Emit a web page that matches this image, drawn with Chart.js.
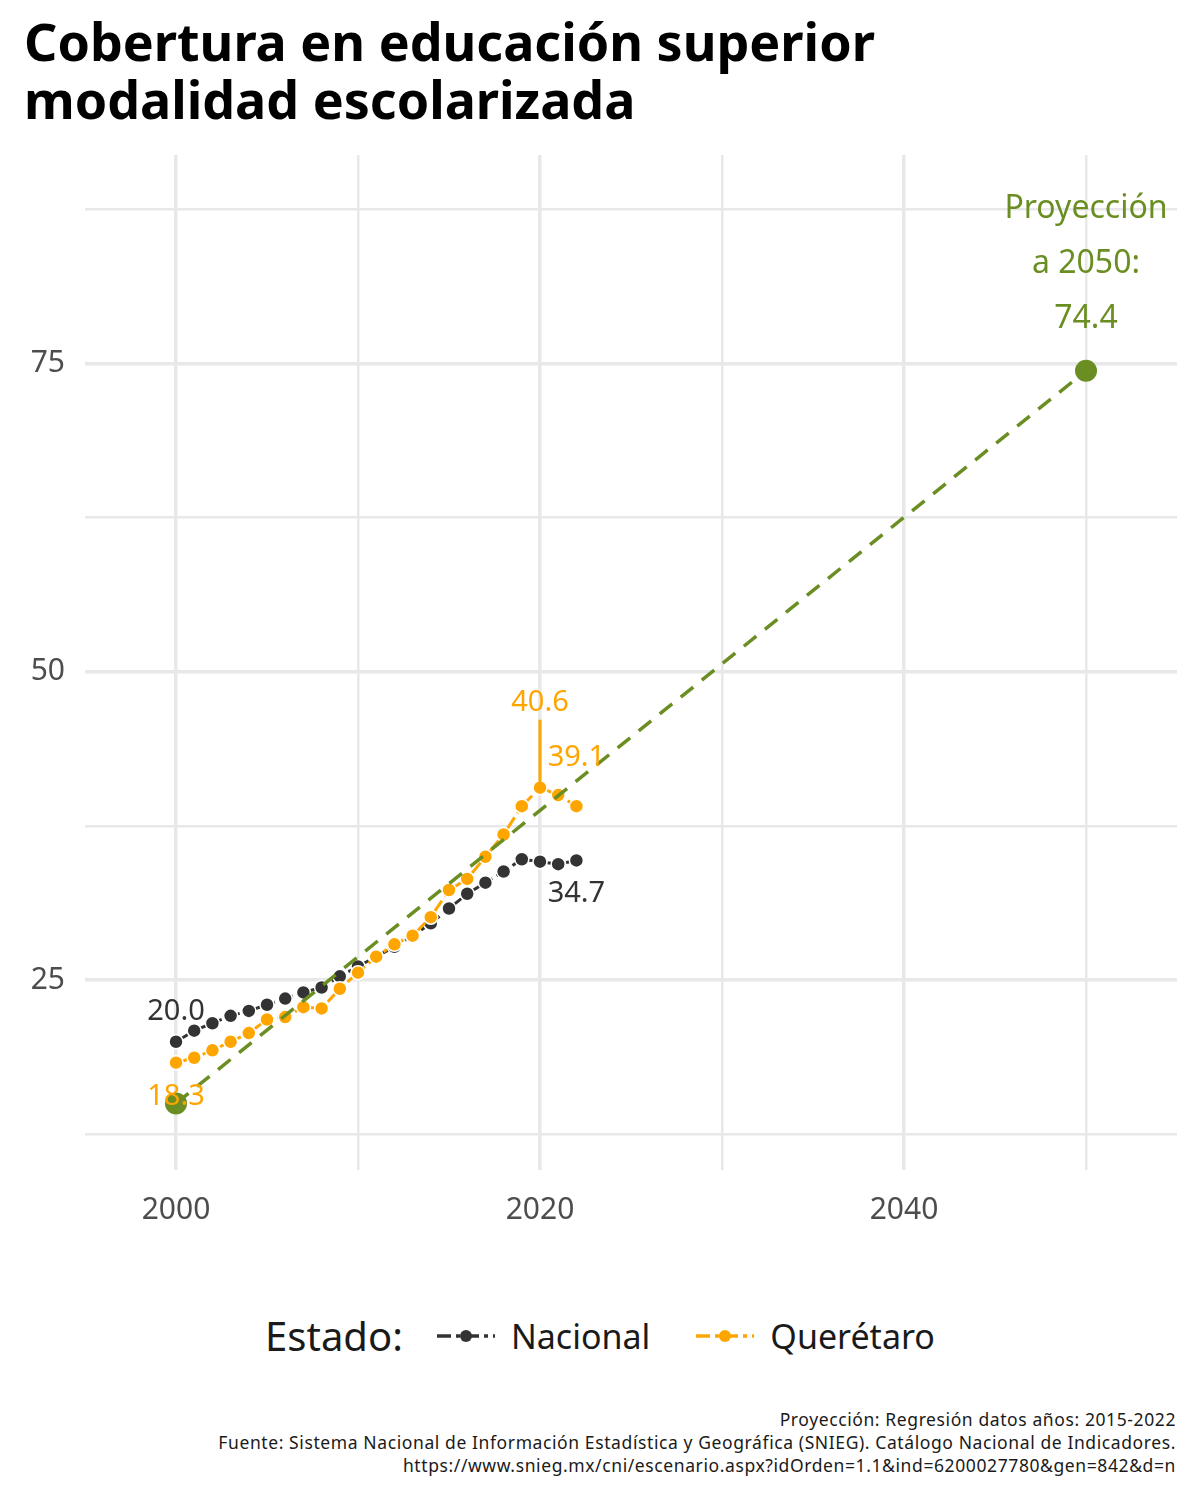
<!DOCTYPE html>
<html><head><meta charset="utf-8">
<script src="https://cdn.jsdelivr.net/npm/chart.js@4"></script>
<style>
body{margin:0;width:1200px;height:1500px;background:#fff;font-family:"Noto Sans",sans-serif;position:relative;overflow:hidden}
#title{position:absolute;left:24px;top:12px;font-size:52px;font-weight:bold;line-height:58px;color:#000;letter-spacing:0px}
#wrap{position:absolute;left:0;top:0;width:1200px;height:1260px}
#legend{position:absolute;top:1308px;left:0;width:1200px;text-align:center;font-size:34px;color:#1a1a1a;display:flex;justify-content:center;align-items:center;gap:14px}
#legend .t{font-size:40px;margin-right:18px}
#foot{position:absolute;right:24px;top:1408px;text-align:right;font-size:17.5px;line-height:23px;color:#1a1a1a;letter-spacing:0.6px}
</style></head><body>
<div id="title">Cobertura en educación superior<br>modalidad escolarizada</div>
<div id="wrap"><canvas id="c"></canvas></div>
<div id="legend"><span class="t">Estado:</span>
<svg width="62" height="20"><line x1="2" y1="10" x2="60" y2="10" stroke="#333" stroke-width="3.5" stroke-dasharray="14,5,4,5"/><circle cx="31" cy="10" r="6" fill="#333"/></svg><span style="margin-right:30px">Nacional</span>
<svg width="62" height="20"><line x1="2" y1="10" x2="60" y2="10" stroke="#FFA500" stroke-width="3.5" stroke-dasharray="14,5,4,5"/><circle cx="31" cy="10" r="6" fill="#FFA500"/></svg><span>Querétaro</span></div>
<div id="foot">Proyección: Regresión datos años: 2015-2022<br>Fuente: Sistema Nacional de Información Estadística y Geográfica (SNIEG). Catálogo Nacional de Indicadores.<br>https://www.snieg.mx/cni/escenario.aspx?idOrden=1.1&amp;ind=6200027780&amp;gen=842&amp;d=n</div>
<script>
const years=[2000,2001,2002,2003,2004,2005,2006,2007,2008,2009,2010,2011,2012,2013,2014,2015,2016,2017,2018,2019,2020,2021,2022];
const nacional=[20.0,20.9,21.5,22.1,22.5,23.0,23.5,24.0,24.4,25.3,26.1,26.9,27.7,28.6,29.6,30.8,32.0,32.9,33.8,34.8,34.6,34.4,34.7];
const queretaro=[18.3,18.7,19.3,20.0,20.7,21.8,22.0,22.8,22.7,24.3,25.6,26.9,27.9,28.6,30.1,32.3,33.2,35.0,36.8,39.1,40.6,40.0,39.1];
const projYears=[2000,2050];
const projValues=[15.0,74.4];
const yTicks=[12.5,25,37.5,50,62.5,75,87.5];
const xTicks=[2000,2010,2020,2030,2040,2050];
const pts=(xs,ys)=>xs.map((x,i)=>({x:x,y:ys[i]}));
const FONT='"Noto Sans",sans-serif';
const labels={id:'labels',afterDatasetsDraw(ch){
 const c=ch.ctx,xs=ch.scales.x,ys=ch.scales.y;
 c.save();c.textAlign='center';c.textBaseline='middle';c.font='29px '+FONT;
 const imax=queretaro.indexOf(Math.max(...queretaro));
 const px=xs.getPixelForValue(years[imax]),py=ys.getPixelForValue(queretaro[imax]);
 c.strokeStyle='#FFA500';c.lineWidth=3;c.beginPath();c.moveTo(px,py);c.lineTo(px,py-68);c.stroke();
 c.fillStyle='#FFA500';c.fillText(queretaro[imax].toFixed(1),px,py-85);
 const L=years.length-1;
 c.fillText(queretaro[L].toFixed(1),xs.getPixelForValue(years[L]),ys.getPixelForValue(queretaro[L])-48);
 c.fillText(queretaro[0].toFixed(1),xs.getPixelForValue(years[0]),ys.getPixelForValue(queretaro[0])+34);
 c.fillStyle='#333';
 c.fillText(nacional[0].toFixed(1),xs.getPixelForValue(years[0]),ys.getPixelForValue(nacional[0])-30);
 c.fillText(nacional[L].toFixed(1),xs.getPixelForValue(years[L]),ys.getPixelForValue(nacional[L])+33);
 c.fillStyle='#6B8E23';c.font='32px '+FONT;
 const gx=xs.getPixelForValue(projYears[1]),gy=ys.getPixelForValue(projValues[1]);
 c.fillText('Proyección',gx,gy-162);c.fillText('a 2050:',gx,gy-107);c.fillText(projValues[1].toFixed(1),gx,gy-52);
 c.restore();}};
new Chart(document.getElementById('c'),{type:'scatter',
 data:{datasets:[
  {data:pts(projYears,projValues),showLine:true,borderColor:'#6B8E23',borderWidth:3.5,borderDash:[16,11],pointRadius:11,pointBackgroundColor:'#6B8E23',pointBorderWidth:0},
  {data:pts(years,queretaro),showLine:true,borderColor:'#FFA500',borderWidth:3,borderDash:[14,5,4,5],pointRadius:7,pointBackgroundColor:'#FFA500',pointBorderColor:'#fff',pointBorderWidth:1.5},
  {data:pts(years,nacional),showLine:true,borderColor:'#333333',borderWidth:3,borderDash:[14,5,4,5],pointRadius:7,pointBackgroundColor:'#333333',pointBorderColor:'#fff',pointBorderWidth:1.5}
 ]},
 options:{responsive:true,maintainAspectRatio:false,animation:false,
  layout:{padding:{top:155,right:23,left:0,bottom:0}},
  plugins:{legend:{display:false},tooltip:{enabled:false}},
  scales:{
   x:{type:'linear',min:1995,max:2055,border:{display:false},
    afterBuildTicks:a=>{a.ticks=xTicks.map(v=>({value:v}))},
    afterFit:a=>{a.height=90},
    grid:{color:'#e8e8e8',lineWidth:c=>c.tick&&c.tick.value%20===0?3.5:2.5,drawTicks:false},
    ticks:{color:'#4d4d4d',font:{size:30,family:FONT},padding:22,callback:v=>v%20===0?String(v):''}},
   y:{min:9.6,max:91.9,border:{display:false},
    afterBuildTicks:a=>{a.ticks=yTicks.map(v=>({value:v}))},
    afterFit:a=>{a.width=85},
    grid:{color:'#e8e8e8',lineWidth:c=>c.tick&&c.tick.value%25===0?3.5:2.5,drawTicks:false},
    ticks:{color:'#4d4d4d',font:{size:30,family:FONT},padding:20,callback:v=>v%25===0?String(v):''}}
  }},
 plugins:[labels]});
</script></body></html>
